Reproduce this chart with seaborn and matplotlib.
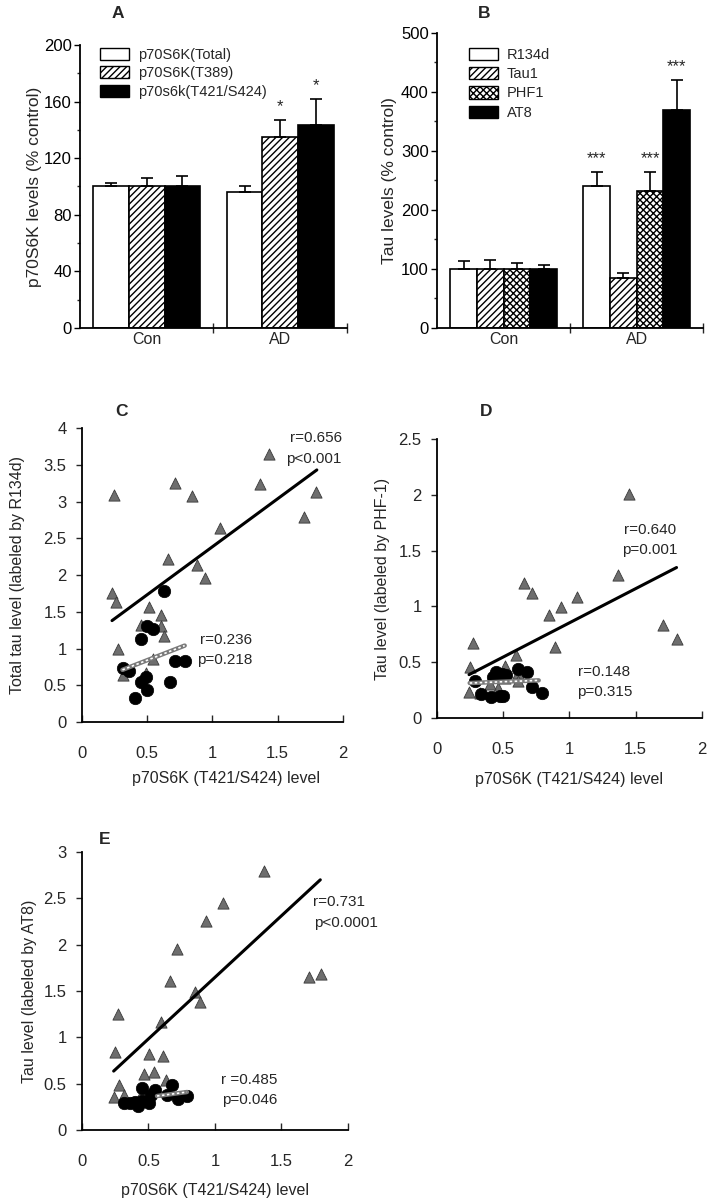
import numpy as np
import pandas as pd
import matplotlib
matplotlib.use("Agg")
import matplotlib.pyplot as plt
from matplotlib.patches import Patch
from matplotlib.container import BarContainer
from matplotlib.ticker import MultipleLocator, FormatStrFormatter
import seaborn as sns

sns.set_theme(style="white")
plt.rcParams['font.family'] = ['Liberation Sans', 'DejaVu Sans']
plt.rcParams['hatch.linewidth'] = 1.0

# ---------------- data ----------------
groups = ["Con", "AD"]

a_series = ["p70S6K(Total)", "p70S6K(T389)", "p70s6k(T421/S424)"]
a_con = [100, 100, 100]
a_ad = [96, 135, 143.5]
a_con_err = [2.5, 6, 7.5]
a_ad_err = [4, 12, 18.5]
a_stars = ["", "*", "*"]

b_series = ["R134d", "Tau1", "PHF1", "AT8"]
b_con = [100, 100, 100, 100]
b_ad = [240, 85, 232, 370]
b_con_err = [14, 16, 10, 6]
b_ad_err = [24, 8, 33, 50]
b_stars = ["***", "", "***", "***"]

# Panel C (R134d)
c_tri_x = [0.244, 0.71, 0.846, 1.436, 1.367, 1.795, 1.705, 1.059, 0.662, 0.885, 0.941,
           0.231, 0.264, 0.513, 0.603, 0.454, 0.603, 0.628, 0.274, 0.544, 0.487, 0.315]
c_tri_y = [3.09, 3.25, 3.07, 3.65, 3.24, 3.13, 2.79, 2.64, 2.22, 2.13, 1.96,
           1.76, 1.64, 1.56, 1.45, 1.32, 1.30, 1.17, 0.99, 0.86, 0.67, 0.64]
c_cir_x = [0.628, 0.50, 0.544, 0.449, 0.313, 0.359, 0.713, 0.787, 0.449, 0.492, 0.674, 0.50, 0.41]
c_cir_y = [1.78, 1.30, 1.27, 1.13, 0.73, 0.70, 0.83, 0.83, 0.54, 0.61, 0.55, 0.43, 0.33]
c_fit_tri_x = [0.23, 1.80]
c_fit_tri_y = [1.38, 3.43]
c_fit_cir_x = [0.31, 0.787]
c_fit_cir_y = [0.71, 1.04]
c_stats = [("r=0.656", 1.99, 3.86, "right"), ("p<0.001", 1.99, 3.58, "right"),
           ("r=0.236", 0.905, 1.115, "left"), ("p=0.218", 0.88, 0.84, "left")]

# Panel D (PHF-1)
d_tri_x = [1.451, 1.368, 0.655, 0.718, 1.06, 0.94, 0.846, 1.708, 1.816, 0.272, 0.889,
           0.60, 0.247, 0.511, 0.612, 0.612, 0.461, 0.239, 0.322, 0.511, 0.45, 0.40]
d_tri_y = [2.01, 1.28, 1.21, 1.12, 1.08, 0.99, 0.92, 0.835, 0.71, 0.67, 0.635,
           0.567, 0.46, 0.47, 0.40, 0.33, 0.27, 0.23, 0.22, 0.36, 0.40, 0.30]
d_cir_x = [0.285, 0.33, 0.423, 0.448, 0.494, 0.524, 0.612, 0.683, 0.41, 0.474, 0.50, 0.72, 0.793]
d_cir_y = [0.334, 0.215, 0.364, 0.41, 0.394, 0.388, 0.44, 0.41, 0.19, 0.20, 0.20, 0.28, 0.22]
d_fit_tri_x = [0.242, 1.809]
d_fit_tri_y = [0.388, 1.348]
d_fit_cir_x = [0.247, 0.768]
d_fit_cir_y = [0.313, 0.337]
d_stats = [("r=0.640", 1.41, 1.685, "left"), ("p=0.001", 1.40, 1.505, "left"),
           ("r=0.148", 1.064, 0.41, "left"), ("p=0.315", 1.057, 0.233, "left")]

# Panel E (AT8)
e_tri_x = [1.366, 1.06, 0.932, 0.714, 0.664, 0.852, 0.89, 1.704, 1.797, 0.268, 0.594,
           0.251, 0.506, 0.607, 0.469, 0.539, 0.634, 0.276, 0.238, 0.318, 0.45, 0.55]
e_tri_y = [2.80, 2.45, 2.26, 1.95, 1.61, 1.49, 1.38, 1.65, 1.68, 1.25, 1.17,
           0.84, 0.82, 0.80, 0.60, 0.63, 0.54, 0.485, 0.36, 0.38, 0.40, 0.42]
e_cir_x = [0.313, 0.363, 0.419, 0.451, 0.451, 0.501, 0.521, 0.546, 0.639, 0.677, 0.722, 0.789, 0.40]
e_cir_y = [0.295, 0.295, 0.26, 0.31, 0.45, 0.295, 0.38, 0.43, 0.38, 0.485, 0.33, 0.37, 0.30]
e_fit_tri_x = [0.238, 1.792]
e_fit_tri_y = [0.636, 2.70]
e_fit_cir_x = [0.564, 0.789]
e_fit_cir_y = [0.367, 0.41]
e_stats = [("r=0.731", 1.737, 2.46, "left"), ("p<0.0001", 1.744, 2.23, "left"),
           ("r =0.485", 1.045, 0.54, "left"), ("p=0.046", 1.053, 0.324, "left")]

# ---------------- figure ----------------
fig = plt.figure(figsize=(7.1, 12), dpi=100)
FS = 10

def style_spines(ax):
    for s in ["top", "right"]:
        ax.spines[s].set_visible(False)
    for s in ["left", "bottom"]:
        ax.spines[s].set_color("black")
        ax.spines[s].set_linewidth(1.3)


def bar_panel(rect, series, con, ad, con_err, ad_err, stars, fills, hatches,
              ymax, major, minor, ylabel, ylab_x, letter, letter_xy, leg_anchor, lspace):
    ax = fig.add_axes(rect)
    df = pd.DataFrame({
        "group": [g for g in groups for _ in series],
        "series": series * 2,
        "value": list(con) + list(ad),
    })
    sns.barplot(data=df, x="group", y="value", hue="series", order=groups,
                hue_order=series, errorbar=None, width=0.8, gap=0,
                palette=["white"] * len(series), edgecolor="black",
                linewidth=1.2, legend=False, ax=ax)
    errs = {"Con": con_err, "AD": ad_err}
    bar_conts = [c for c in ax.containers if isinstance(c, BarContainer)]
    for i, cont in enumerate(bar_conts):
        for j, bar in enumerate(cont.patches):
            bar.set_facecolor(fills[i])
            bar.set_hatch(hatches[i])
            bar.set_edgecolor("black")
            xc = bar.get_x() + bar.get_width() / 2
            h = bar.get_height()
            e = errs[groups[j]][i]
            ax.errorbar([xc], [h], yerr=[[0], [e]], fmt="none", ecolor="black",
                        elinewidth=1.2, capsize=4, capthick=1.2, zorder=1)
            if j == 1 and stars[i]:
                ax.text(xc, h + e + ymax * 0.02, stars[i], ha="center", va="bottom",
                        fontsize=FS + 2)
    ax.set_xlim(-0.5, 1.5)
    ax.set_ylim(0, ymax)
    style_spines(ax)
    ax.yaxis.set_major_locator(MultipleLocator(major))
    ax.yaxis.set_minor_locator(MultipleLocator(minor))
    ax.tick_params(axis="y", which="major", direction="out", length=4, width=1,
                   labelsize=12, left=True, colors="black", pad=2)
    ax.tick_params(axis="y", which="minor", direction="out", length=2.5, width=1, left=True)
    ax.set_xticks([0.5, 1.5])
    ax.set_xticklabels(["", ""])
    ax.set_xticks([0, 1], minor=True)
    ax.set_xticklabels(groups, minor=True)
    ax.tick_params(axis="x", which="major", direction="inout", length=7, width=1, bottom=True)
    ax.tick_params(axis="x", which="minor", length=0, labelsize=11.5, pad=3)
    ax.set_xlabel("")
    ax.set_ylabel(ylabel, fontsize=12.5)
    ax.yaxis.set_label_coords(ylab_x, 0.5)
    handles = [Patch(facecolor=fills[i], edgecolor="black", hatch=hatches[i], label=series[i])
               for i in range(len(series))]
    ax.legend(handles=handles, loc="upper left", bbox_to_anchor=leg_anchor, frameon=False,
              fontsize=10.5, handlelength=2.0, handleheight=0.9, labelspacing=lspace,
              handletextpad=0.6, borderaxespad=0, borderpad=0)
    fig.text(letter_xy[0], letter_xy[1], letter, fontsize=12.5, fontweight="bold",
             ha="center", va="center")
    return ax


bar_panel([0.1127, 0.7267, 0.376, 0.2358], a_series, a_con, a_ad, a_con_err, a_ad_err,
          a_stars, ["white", "white", "black"], ["", "/////", ""], 200, 40, 20,
          "p70S6K levels (% control)", -0.142, "A", (118 / 710, 1 - 14 / 1200),
          (0.075, 0.99), 0.3)

bar_panel([0.6155, 0.7267, 0.375, 0.2458], b_series, b_con, b_ad, b_con_err, b_ad_err,
          b_stars, ["white", "white", "white", "black"], ["", "/////", "xxxxx", ""], 500, 100, 50,
          "Tau levels (% control)", -0.15, "B", (484 / 710, 1 - 13 / 1200),
          (0.12, 0.95), 0.36)


def scatter_panel(rect, tx, ty, cx, cy, ftx, fty, fcx, fcy, stats, ymax, ystep,
                  ylabel, ylab_x, xlab_xy, letter, letter_xy):
    ax = fig.add_axes(rect)
    sns.scatterplot(x=tx, y=ty, marker="^", s=65, color="#6e6e6e", edgecolor="#3a3a3a",
                    linewidth=0.6, ax=ax, zorder=2)
    sns.scatterplot(x=cx, y=cy, marker="o", s=80, color="black", edgecolor="black",
                    linewidth=0.5, ax=ax, zorder=3)
    sns.lineplot(x=ftx, y=fty, color="black", lw=2.2, ax=ax, zorder=4)
    sns.lineplot(x=fcx, y=fcy, color="#7a7a7a", lw=3.2, ax=ax, zorder=4)
    ax.plot(fcx, fcy, color="white", lw=1.2, ls=(0, (1.5, 1.5)), zorder=5)
    for t, x, y, ha in stats:
        ax.text(x, y, t, ha=ha, va="center", fontsize=11, zorder=6)
    ax.set_xlim(0, 2)
    ax.set_ylim(0, ymax)
    style_spines(ax)
    ax.xaxis.set_major_locator(MultipleLocator(0.5))
    ax.yaxis.set_major_locator(MultipleLocator(ystep))
    ax.xaxis.set_major_formatter(FormatStrFormatter("%g"))
    ax.yaxis.set_major_formatter(FormatStrFormatter("%g"))
    ax.tick_params(axis="x", direction="in", length=5, width=1, bottom=True,
                   labelsize=12, pad=17)
    ax.tick_params(axis="y", direction="out", length=4, width=1, left=True,
                   labelsize=12, pad=7)
    ax.set_xlabel("p70S6K (T421/S424) level", fontsize=11.5)
    ax.xaxis.set_label_coords(xlab_xy[0], xlab_xy[1])
    ax.set_ylabel(ylabel, fontsize=11.5)
    ax.yaxis.set_label_coords(ylab_x, 0.5)
    fig.text(letter_xy[0], letter_xy[1], letter, fontsize=12.5, fontweight="bold",
             ha="center", va="center")
    return ax


scatter_panel([0.1155, 0.3983, 0.3675, 0.245], c_tri_x, c_tri_y, c_cir_x, c_cir_y,
              c_fit_tri_x, c_fit_tri_y, c_fit_cir_x, c_fit_cir_y, c_stats, 4, 0.5,
              "Total tau level (labeled by R134d)", -0.218, (0.55, -0.167),
              "C", (122 / 710, 1 - 412 / 1200))

scatter_panel([0.6155, 0.4017, 0.373, 0.2325], d_tri_x, d_tri_y, d_cir_x, d_cir_y,
              d_fit_tri_x, d_fit_tri_y, d_fit_cir_x, d_fit_cir_y, d_stats, 2.5, 0.5,
              "Tau level (labeled by PHF-1)", -0.177, (0.5, -0.194),
              "D", (486 / 710, 1 - 412 / 1200))

scatter_panel([0.1155, 0.0583, 0.3746, 0.2317], e_tri_x, e_tri_y, e_cir_x, e_cir_y,
              e_fit_tri_x, e_fit_tri_y, e_fit_cir_x, e_fit_cir_y, e_stats, 3, 0.5,
              "Tau level (labeled by AT8)", -0.169, (0.5, -0.19),
              "E", (105 / 710, 1 - 840 / 1200))

fig.savefig("out.png", dpi=100, facecolor="white")
